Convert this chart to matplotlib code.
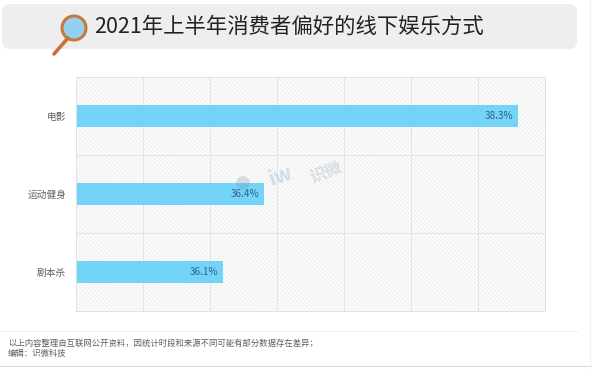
import matplotlib
matplotlib.use('Agg')
import matplotlib.pyplot as plt
from matplotlib.patches import FancyBboxPatch, Circle
from matplotlib.lines import Line2D

plt.rcParams['font.family'] = ['Noto Sans CJK SC', 'DejaVu Sans']
plt.rcParams['hatch.linewidth'] = 0.35

title = '2021年上半年消费者偏好的线下娱乐方式'
categories = ['电影', '运动健身', '剧本杀']
values = [38.3, 36.4, 36.1]
labels = ['38.3%', '36.4%', '36.1%']
axis_start = 35.0
axis_end = 38.5
x_ticks = [35.0, 35.5, 36.0, 36.5, 37.0, 37.5, 38.0, 38.5]
notes = ['以上内容整理自互联网公开资料，因统计时段和来源不同可能有部分数据存在差异；', '编辑：识微科技']

W, H = 592, 369
fig = plt.figure(figsize=(W/100, H/100), dpi=100, facecolor='white')

bg = fig.add_axes([0, 0, 1, 1], zorder=0)
bg.set_xlim(0, W); bg.set_ylim(H, 0); bg.axis('off')
bg.add_patch(FancyBboxPatch((2, 4), 575, 45, boxstyle='round,pad=0,rounding_size=8', lw=0, fc='#eeeeee'))
bg.text(94, 26.5, title, fontsize=15.4, fontweight='medium', color='#222222', va='center', ha='left')
bg.add_line(Line2D([54, 68], [54, 38], color='#c8703a', lw=2.6, solid_capstyle='round'))
bg.add_patch(Circle((74, 28), 12, fc='#92d2ee', ec='#c9763f', lw=2.2))
bg.add_line(Line2D([0, 577], [331, 331], color='#e6e6e6', lw=0.7, ls=(0, (2, 2))))
bg.add_line(Line2D([0, W], [366, 366], color='#dcdcdc', lw=0.8))
bg.add_line(Line2D([590, 590], [0, 369], color='#efefef', lw=0.8))
bg.text(8, 343, notes[0], fontsize=6.0, color='#606060', va='center', ha='left')
bg.text(8, 353.5, notes[1], fontsize=6.0, color='#606060', va='center', ha='left')

ax = fig.add_axes([76/W, 1-311/H, (545-76)/W, (311-77)/H], zorder=1)
ax.set_xlim(axis_start, axis_end)
ax.set_ylim(2.5, -0.5)
ax.set_facecolor('#fbfbfb')
ax.patch.set_hatch('\\\\\\\\\\\\\\\\')
ax.patch.set_edgecolor('#e2e2e2')
ax.set_xticks(x_ticks)
ax.set_yticks([0.5, 1.5], minor=True)
ax.set_yticks(range(3))
ax.set_yticklabels(categories, fontsize=7, color='#606060')
ax.tick_params(axis='y', which='both', length=0, pad=7)
ax.tick_params(axis='x', which='both', length=0, labelbottom=False)
ax.grid(True, axis='x', color='#e2e2e2', lw=0.7)
ax.grid(True, axis='y', which='minor', color='#e2e2e2', lw=0.7)
ax.grid(False, axis='y', which='major')
ax.set_axisbelow(True)
for s in ax.spines.values():
    s.set_color('#e2e2e2'); s.set_linewidth(0.7)

ax.barh(range(3), [v-axis_start for v in values], left=axis_start, height=0.29, color='#74d3f8', zorder=2)
for i, (v, l) in enumerate(zip(values, labels)):
    ax.text(v-0.035, i, l, fontsize=7.2, color='#2f6480', ha='right', va='center', zorder=3)

top = fig.add_axes([0, 0, 1, 1], zorder=2)
top.set_xlim(0, W); top.set_ylim(H, 0); top.axis('off')
top.text(281, 176, 'iw', fontsize=15, fontweight='bold', color='#9fc3da', alpha=0.45, rotation=20, ha='center', va='center')
top.text(326, 172, '识微', fontsize=12, fontweight='bold', color='#b9c3cc', alpha=0.5, rotation=20, ha='center', va='center')
top.add_patch(Circle((243, 183), 7, fc='#7d96ab', ec='none', alpha=0.28))

fig.savefig('out.png', dpi=100)
